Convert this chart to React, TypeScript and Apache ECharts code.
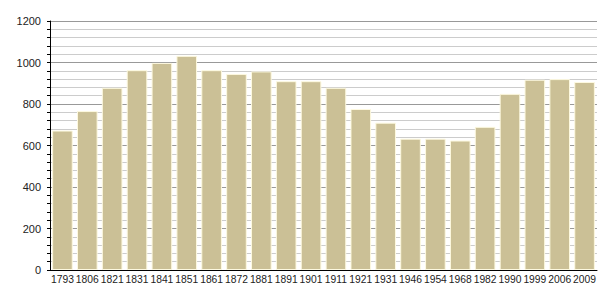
import React, { useEffect, useRef } from "react";
import * as echarts from "echarts";

const years = [
  "1793", "1806", "1821", "1831", "1841", "1851", "1861", "1872", "1881", "1891", "1901",
  "1911", "1921", "1931", "1946", "1954", "1968", "1982", "1990", "1999", "2006", "2009",
];
const population = [
  672, 766, 878, 963, 998, 1032, 963, 945, 957, 910, 910,
  878, 776, 710, 633, 633, 624, 690, 849, 917, 920, 906,
];
const yTicks = { min: 0, max: 1200, interval: 200 };

export default function App() {
  const ref = useRef<HTMLDivElement>(null);
  useEffect(() => {
    if (!ref.current) return;
    const chart = echarts.init(ref.current, undefined, { renderer: "svg" });
    chart.setOption({
      animation: false,
      grid: { left: 50, right: 8, top: 21, bottom: 30, containLabel: false },
      xAxis: {
        type: "category",
        data: years,
        axisLine: { show: true, lineStyle: { color: "#000", width: 1 } },
        axisTick: { show: false },
        axisLabel: {
          interval: 0,
          fontSize: 10.3,
          color: "#222",
          fontFamily: "Liberation Sans",
          margin: 4,
        },
      },
      yAxis: {
        type: "value",
        min: yTicks.min,
        max: yTicks.max,
        interval: yTicks.interval,
        axisLine: { show: true, lineStyle: { color: "#000", width: 1 } },
        axisTick: { show: true, length: 3, lineStyle: { color: "#000" } },
        minorTick: { show: true, splitNumber: 5, length: 3, lineStyle: { color: "#000" } },
        splitLine: { show: true, lineStyle: { color: "#999", width: 1 } },
        minorSplitLine: { show: true, lineStyle: { color: "#ccc", width: 1 } },
        axisLabel: {
          fontSize: 11,
          color: "#222",
          fontFamily: "Liberation Sans",
          margin: 9,
          formatter: (v: number) => String(v),
        },
      },
      series: [
        {
          type: "bar",
          data: population,
          barCategoryGap: "17%",
          itemStyle: {
            color: "#cbc096",
            borderColor: "#fdf9e0",
            borderWidth: 1,
          },
        },
      ],
    });
    return () => chart.dispose();
  }, []);
  return <div ref={ref} style={{ width: 605, height: 300, position: "absolute", left: 0, top: 0 }} />;
}
